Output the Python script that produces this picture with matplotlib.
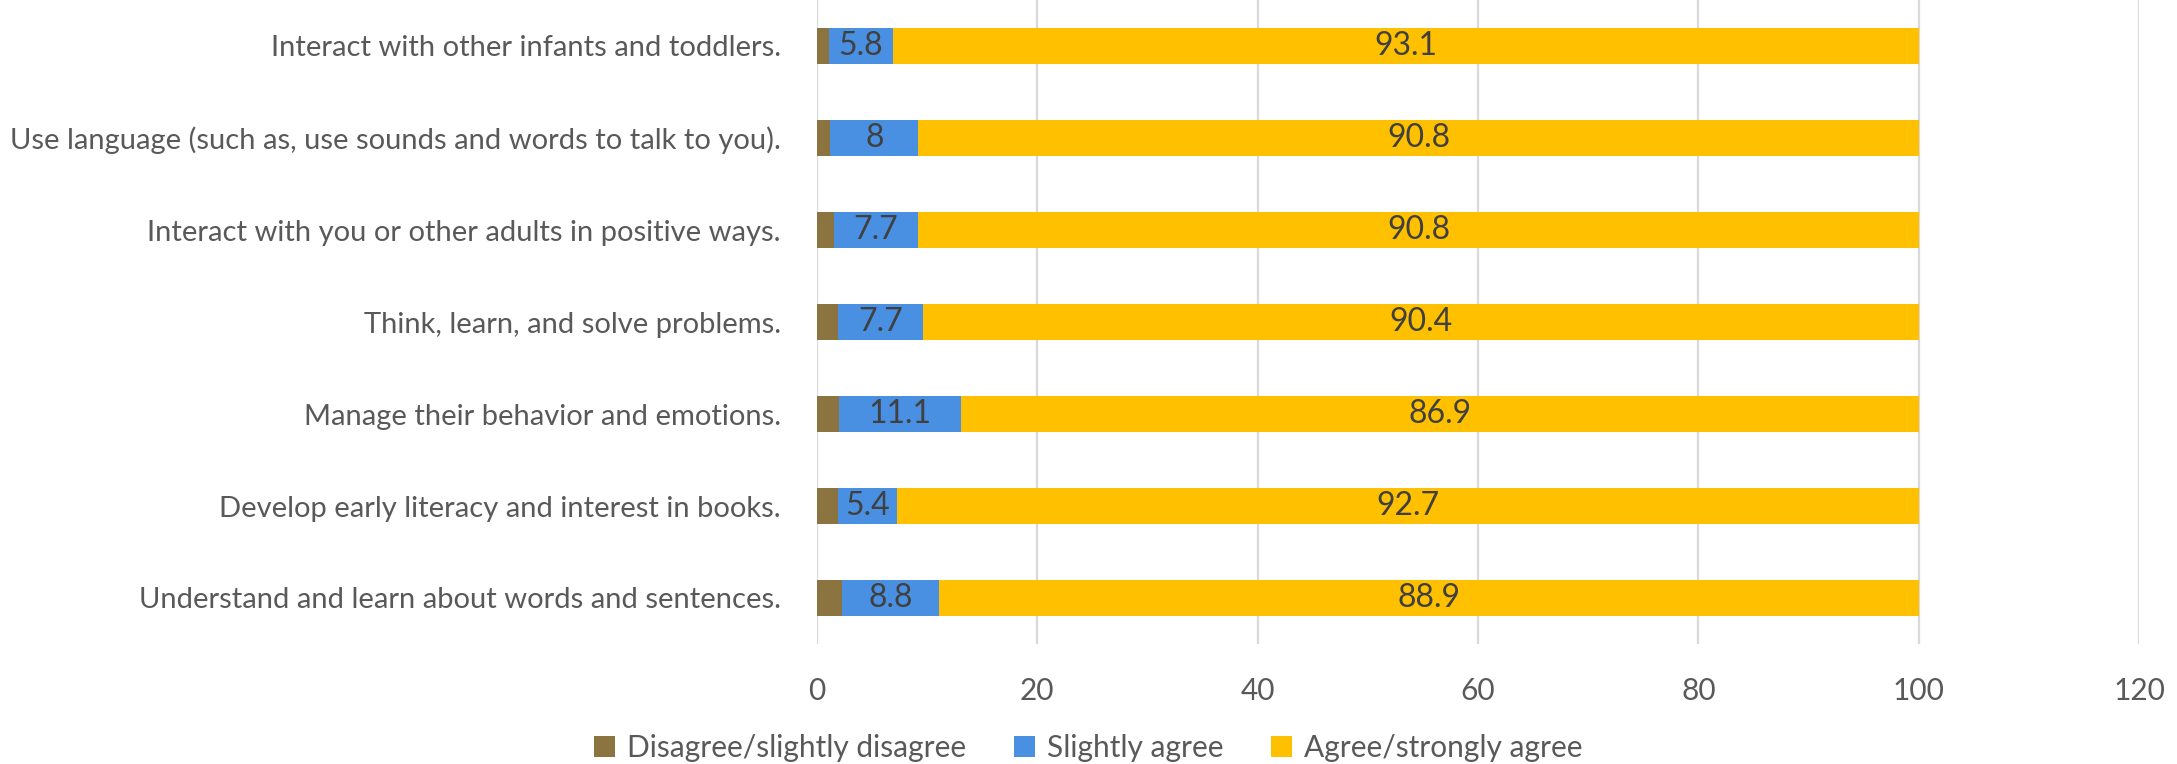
import numpy as np
import matplotlib.pyplot as plt

# --- datos ---
categorias = [
    "Interact with other infants and toddlers.",
    "Use language (such as, use sounds and words to talk to you).",
    "Interact with you or other adults in positive ways.",
    "Think, learn, and solve problems.",
    "Manage their behavior and emotions.",
    "Develop early literacy and interest in books.",
    "Understand and learn about words and sentences.",
]
desacuerdo = [1.1, 1.2, 1.5, 1.9, 2.0, 1.9, 2.3]
algo_acuerdo = [5.8, 8, 7.7, 7.7, 11.1, 5.4, 8.8]
acuerdo = [93.1, 90.8, 90.8, 90.4, 86.9, 92.7, 88.9]
series_nombres = ["Disagree/slightly disagree", "Slightly agree", "Agree/strongly agree"]
colores = ["#8C7440", "#4A90E2", "#FFC000"]

plt.rcParams['font.family'] = ['Lato', 'DejaVu Sans']
TXT = "#595959"

fig = plt.figure(figsize=(21.77, 7.64), dpi=100)
ax = fig.add_axes([817 / 2177, 120 / 764, 1322 / 2177, 644 / 764])

y = np.arange(len(categorias))
izq = np.zeros(len(categorias))
for valores, nombre, color in zip([desacuerdo, algo_acuerdo, acuerdo], series_nombres, colores):
    barras = ax.barh(y, valores, left=izq, height=0.4, color=color, label=nombre, zorder=3)
    if nombre != series_nombres[0]:
        etiquetas = [f"{v:g}" for v in valores]
        ax.bar_label(barras, labels=etiquetas, label_type='center', fontsize=23, color="#404040")
    izq += np.array(valores)

ax.set_xlim(0, 120)
ax.set_ylim(len(categorias) - 0.5, -0.5)
ax.set_xticks(np.arange(0, 121, 20))
ax.set_yticks(y)
ax.set_yticklabels(categorias)
ax.tick_params(axis='x', length=0, labelsize=21.5, labelcolor=TXT, pad=24)
ax.tick_params(axis='y', length=0, labelsize=21, labelcolor=TXT, pad=26)
ax.grid(axis='x', color="#D9D9D9", linewidth=1.6, zorder=0)
for s in ax.spines.values():
    s.set_visible(False)

fig.legend(loc='center', bbox_to_anchor=(0.5, 16 / 764), ncol=3, frameon=False,
           fontsize=21.5, labelcolor=TXT, handlelength=0.7, handleheight=0.7,
           handletextpad=0.4, columnspacing=1.6)

fig.savefig("out.png", dpi=100)
